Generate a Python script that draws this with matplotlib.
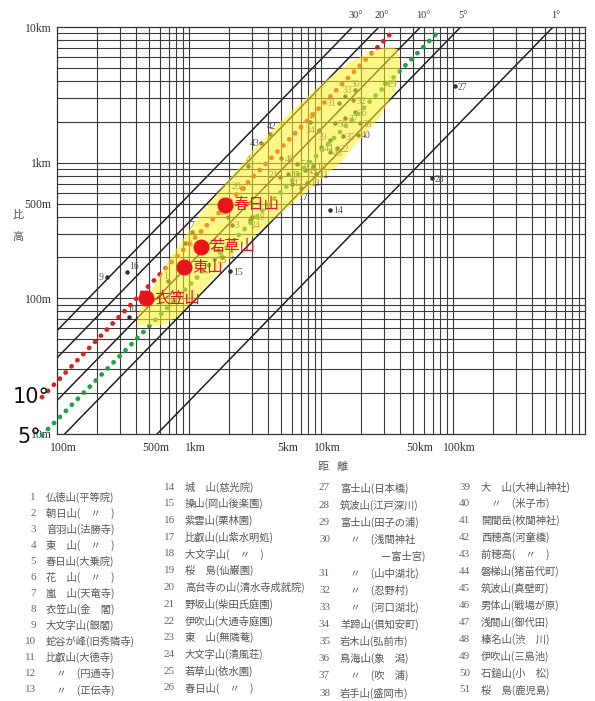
import matplotlib
matplotlib.use("Agg")
import matplotlib.pyplot as plt
import matplotlib.transforms as mtransforms
import numpy as np
from matplotlib.patches import Polygon
from matplotlib.ticker import FixedLocator, FixedFormatter

# numbered viewpoints: distance (m), relative height (m)
pt_ids = [1, 2, 3, 4, 5, 6, 7, 8, 9, 10, 11, 12, 13, 14, 15, 16, 17, 18, 19, 20,
          21, 22, 23, 24, 25, 26, 27, 28, 29, 30, 31, 32, 33, 34, 35, 36, 37, 38,
          39, 40, 41, 42, 43, 44, 45, 46, 47, 48, 49, 50, 51]
pt_dist = [690, 1240, 2100, 915, 1780, 930, 1050, 470, 240, 350, 9200, 6000, 7800,
           11700, 2050, 340, 7000, 3000, 8700, 2560, 4900, 13200, 1980, 2900, 1660,
           1870, 103500, 69000, 30500, 18100, 13700, 17500, 15300, 9600, 14600,
           18100, 15300, 19700, 11700, 19100, 2800, 4100, 3500, 10000, 5600, 5000,
           8300, 11700, 7500, 12700, 6600]
pt_height = [134, 242, 350, 172, 200, 255, 310, 100, 143, 73, 820, 700, 710,
             448, 159, 156, 650, 400, 940, 650, 780, 1280, 400, 380, 227,
             490, 3670, 770, 3860, 3430, 2750, 2890, 3100, 1740, 1570,
             2360, 2130, 1960, 1470, 1600, 940, 1620, 1390, 1300, 820, 1080,
             1990, 1190, 880, 1960, 980]
# label offsets in pixels (style only); None = label sits under a big marker
pt_offsets = {9: (-9, 0), 16: (2, 6), 10: (-2, 7), 42: (-3, 8), 43: (-11, 0),
              41: (-2, 7), 30: (-4, 6), 31: (-12, 0), 33: (-3, 6), 34: (-13, 0),
              39: (-12, 2), 47: (-3, 6), 17: (-2, -9), 20: (-11, 2), 21: (-11, 2),
              23: (-10, 4), 24: (1, -6), 1: (-5, 5), 7: (-2, 6), 12: (1, 0),
              2: None, 4: None, 8: None, 26: None, 25: (0, -10), 5: (6, 1)}

angles = [30, 20, 10, 5, 1]

mark_names = ["春日山", "若草山", "東山", "衣笠山"]
mark_dist = [1870, 1230, 915, 470]
mark_height = [490, 240, 170, 100]

red_dist = [77, 34500]
red_height = [18.7, 9170]
green_dist = [77, 77000]
green_height = [9.8, 9170]

band_dist = [404, 425, 534, 718, 966, 1320, 1720, 3050, 5530, 9820, 16600, 25700,
             33300, 38300, 39700, 35700, 28000, 19700, 13900, 7570, 4110, 2430,
             1630, 1150, 811, 635, 404]
band_height = [69.2, 84.8, 121, 198, 303, 463, 628, 1240, 2240, 3730, 5510, 6760,
               7230, 6760, 4980, 3310, 2170, 1470, 993, 597, 365, 235,
               156, 102, 72.8, 63.6, 63.6]

x_tick_vals = [100, 500, 1000, 5000, 10000, 50000, 100000]
x_tick_text = ["100m", "500m", "1km", "5km", "10km", "50km", "100km"]
y_tick_vals = [10, 100, 500, 1000, 10000]
y_tick_text = ["10m", "100m", "500m", "1km", "10km"]

col1 = [("1", "仏徳山(平等院)"), ("2", "朝日山(　〃　)"), ("3", "音羽山(法勝寺)"),
        ("4", "東　山(　〃　)"), ("5", "春日山(大乗院)"), ("6", "花　山(　〃　)"),
        ("7", "嵐　山(天竜寺)"), ("8", "衣笠山(金　閣)"), ("9", "大文字山(銀閣)"),
        ("10", "蛇谷が峰(旧秀隣寺)"), ("11", "比叡山(大徳寺)"),
        ("12", "　〃　(円通寺)"), ("13", "　〃　(正伝寺)")]
col2 = [("14", "城　山(慈光院)"), ("15", "操山(岡山後楽園)"), ("16", "紫雲山(栗林園)"),
        ("17", "比叡山(山紫水明処)"), ("18", "大文字山(　〃　)"), ("19", "桜　島(仙巌園)"),
        ("20", "高台寺の山(清水寺成就院)"), ("21", "野坂山(柴田氏庭園)"),
        ("22", "伊吹山(大通寺庭園)"), ("23", "東　山(無隣菴)"),
        ("24", "大文字山(清風荘)"), ("25", "若草山(依水園)"), ("26", "春日山(　〃　)")]
col3 = [("27", "富士山(日本橋)"), ("28", "筑波山(江戸深川)"), ("29", "富士山(田子の浦)"),
        ("30", "　〃　(浅間神社"), ("", "　　　　ー富士宮)"), ("31", "　〃　(山中湖北)"),
        ("32", "　〃　(忍野村)"), ("33", "　〃　(河口湖北)"), ("34", "羊蹄山(倶知安町)"),
        ("35", "岩木山(弘前市)"), ("36", "鳥海山(象　潟)"), ("37", "　〃　(吹　浦)"),
        ("38", "岩手山(盛岡市)")]
col4 = [("39", "大　山(大神山神社)"), ("40", "　〃　(米子市)"), ("41", "開聞岳(枚聞神社)"),
        ("42", "西穂高(河童橋)"), ("43", "前穂高(　〃　)"), ("44", "磐梯山(猪苗代町)"),
        ("45", "筑波山(真壁町)"), ("46", "男体山(戦場が原)"), ("47", "浅間山(御代田)"),
        ("48", "榛名山(渋　川)"), ("49", "伊吹山(三島池)"), ("50", "石鎚山(小　松)"),
        ("51", "桜　島(鹿児島)")]

W, H = 595, 701
fig = plt.figure(figsize=(W / 100, H / 100), dpi=100)
fig.patch.set_facecolor("white")
ax = fig.add_axes([57 / W, 1 - 434 / H, 528 / W, 407 / H])
ax.set_xscale("log")
ax.set_yscale("log")
ax.set_xlim(100, 1e6)
ax.set_ylim(10, 1e4)

serif = "Liberation Serif"
jp = ["Noto Sans CJK JP", "DejaVu Sans"]
grey = "#555555"

# log grid (all 1..9 subdivisions)
xgrid = [m * 10 ** k for k in range(2, 6) for m in range(1, 10)]
ygrid = [m * 10 ** k for k in range(1, 4) for m in range(1, 10)]
for v in xgrid[1:]:
    ax.axvline(v, color="#3a3a3a", lw=0.8, zorder=1)
for v in ygrid[1:]:
    ax.axhline(v, color="#3a3a3a", lw=0.8, zorder=1)

ax.xaxis.set_major_locator(FixedLocator(x_tick_vals))
ax.xaxis.set_major_formatter(FixedFormatter(x_tick_text))
ax.yaxis.set_major_locator(FixedLocator(y_tick_vals))
ax.yaxis.set_major_formatter(FixedFormatter(y_tick_text))
ax.xaxis.set_minor_locator(FixedLocator([]))
ax.yaxis.set_minor_locator(FixedLocator([]))
ax.tick_params(length=0, labelsize=8.5, labelcolor="#333333", pad=4)
ax.tick_params(axis="x", pad=6)
for lab in ax.get_xticklabels() + ax.get_yticklabels():
    lab.set_fontfamily(serif)
shift = mtransforms.ScaledTranslation(6 / 100, 0, fig.dpi_scale_trans)
for lab in ax.get_xticklabels():
    lab.set_transform(lab.get_transform() + shift)
for s in ax.spines.values():
    s.set_color("#333333")
    s.set_linewidth(0.9)

# constant-angle lines
d = np.array([50, 2e6])
for a in angles:
    t = np.tan(np.radians(a))
    ax.plot(d, d * t, color="#222222", lw=1.1, zorder=2)
    ax.annotate(f"{a}°", xy=(1e4 / t, 1e4), xytext=(2, 5), textcoords="offset points",
                ha="center", va="bottom", fontsize=7.5, family=serif, color="#333333",
                annotation_clip=False)

# numbered points
ax.scatter(pt_dist, pt_height, s=5, color="#333333", zorder=3)
for i, x, y in zip(pt_ids, pt_dist, pt_height):
    off = pt_offsets.get(i, (3, -1))
    if off is None:
        ax.annotate(str(i), (x, y), ha="center", va="center", fontsize=5,
                    family=serif, color=grey, zorder=3)
        continue
    dx, dy = off
    ax.annotate(str(i), (x, y), xytext=(dx * 0.72, dy * 0.72), textcoords="offset points",
                fontsize=7, family=serif, color=grey, va="center", zorder=3)

# dotted guide lines
for xs, ys, c in [(red_dist, red_height, "#dd1f1f"), (green_dist, green_height, "#22a045")]:
    ax.plot(xs, ys, color=c, lw=3.4, ls=(0, (0.05, 1.75)), dash_capstyle="round",
            clip_on=False, zorder=4)

# highlighted band
band = Polygon(np.column_stack([band_dist, band_height]), closed=True,
               facecolor=(1.0, 0.95, 0.15), alpha=0.55, edgecolor="none", zorder=5)
ax.add_patch(band)

# big markers
ax.plot(mark_dist, mark_height, "o", color="#e8141a", ms=10.5, zorder=6)
for n, x, y in zip(mark_names, mark_dist, mark_height):
    ax.annotate(n, (x, y), xytext=(6, 0), textcoords="offset points", va="center",
                fontsize=11, family=jp, color="#e8141a", zorder=6)

fig.text(13 / W, 1 - 397 / H, "10°", fontsize=15, color="#111111", va="center")
fig.text(17 / W, 1 - 437 / H, "5°", fontsize=15, color="#111111", va="center")

fig.text(18 / W, 1 - 215 / H, "比", fontsize=8, family=jp, color=grey, ha="center", va="center")
fig.text(18 / W, 1 - 237 / H, "高", fontsize=8, family=jp, color=grey, ha="center", va="center")
fig.text(323 / W, 1 - 467 / H, "距", fontsize=8, family=jp, color=grey, ha="center", va="center")
fig.text(342 / W, 1 - 467 / H, "離", fontsize=8, family=jp, color=grey, ha="center", va="center")

# legend table
cols = [(col1, 36, 46, 497, 690), (col2, 175, 185, 487, 688),
        (col3, 330, 340, 488, 693), (col4, 470, 481, 487, 690)]
for items, xn, xt, y0, y1 in cols:
    ys = np.linspace(y0, y1, len(items))
    for (num, name), yy in zip(items, ys):
        fig.text(xn / W, 1 - yy / H, num, fontsize=8, family=serif, color="#666666",
                 ha="right", va="center")
        fig.text(xt / W, 1 - yy / H, name, fontsize=7.4, family=jp, color=grey,
                 ha="left", va="center")

fig.savefig("out.png", dpi=100)
